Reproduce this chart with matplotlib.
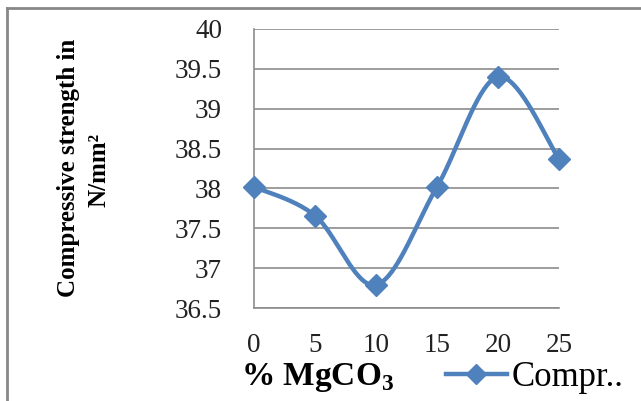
import numpy as np
import matplotlib
matplotlib.use("Agg")
import matplotlib.pyplot as plt
from matplotlib.lines import Line2D

# Data
x_vals = [0, 5, 10, 15, 20, 25]
strength = [38.02, 37.66, 36.79, 38.02, 39.40, 38.37]
y_ticks = [36.5, 37, 37.5, 38, 38.5, 39, 39.5, 40]
y_tick_labels = ["36.5", "37", "37.5", "38", "38.5", "39", "39.5", "40"]
x_tick_labels = ["0", "5", "10", "15", "20", "25"]
series_name = "Compr.."

plt.rcParams['mathtext.fontset'] = 'custom'
plt.rcParams['mathtext.rm'] = 'Liberation Serif:bold'
plt.rcParams['mathtext.bf'] = 'Liberation Serif:bold'

BLUE = "#4F81BD"
GRID = "#8c8c8c"


def smooth(xs, ys, n=40):
    """Catmull-Rom style Bezier smoothing, like spreadsheet smoothed lines."""
    xs = np.asarray(xs, float)
    ys = np.asarray(ys, float)
    px = np.concatenate([[xs[0]], xs, [xs[-1]]])
    py = np.concatenate([[ys[0]], ys, [ys[-1]]])
    outx, outy = [], []
    t = np.linspace(0, 1, n)
    for i in range(1, len(px) - 2):
        p0 = np.array([px[i], py[i]])
        p3 = np.array([px[i + 1], py[i + 1]])
        p1 = p0 + (np.array([px[i + 1], py[i + 1]]) - np.array([px[i - 1], py[i - 1]])) / 6
        p2 = p3 - (np.array([px[i + 2], py[i + 2]]) - np.array([px[i], py[i]])) / 6
        b = ((1 - t) ** 3)[:, None] * p0 + (3 * (1 - t) ** 2 * t)[:, None] * p1 \
            + (3 * (1 - t) * t ** 2)[:, None] * p2 + (t ** 3)[:, None] * p3
        outx.extend(b[:, 0])
        outy.extend(b[:, 1])
    return np.array(outx), np.array(outy)


fig = plt.figure(figsize=(6.41, 4.01), dpi=100)
ax = fig.add_axes([254 / 641, 1 - 308 / 401, 305 / 641, (308 - 29) / 401])

sx, sy = smooth(x_vals, strength)
ax.plot(sx, sy, color=BLUE, lw=3.2, solid_capstyle='round', zorder=3)
ax.plot(x_vals, strength, linestyle='none', marker='D', markersize=11,
        color=BLUE, zorder=4, clip_on=False)

ax.set_xlim(0, 25)
ax.set_ylim(36.5, 40)
ax.set_yticks(y_ticks)
ax.set_yticklabels(y_tick_labels)
ax.set_xticks(x_vals)
ax.set_xticklabels(x_tick_labels)
ax.grid(axis='y', color=GRID, lw=1.2)
ax.set_axisbelow(True)
for s in ['top', 'right']:
    ax.spines[s].set_visible(False)
for s in ['left', 'bottom']:
    ax.spines[s].set_color(GRID)
    ax.spines[s].set_linewidth(1.2)
ax.tick_params(axis='both', length=0, labelsize=19.5, colors='#222222')
ax.tick_params(axis='y', pad=23)
ax.tick_params(axis='x', pad=18)
for lab in ax.get_xticklabels() + ax.get_yticklabels():
    lab.set_fontfamily('Liberation Serif')

fig.text(68 / 641, 1 - 168 / 401, "Compressive strength in",
         rotation=90, ha='center', va='center', fontsize=18,
         fontweight='bold', family='Liberation Serif')
fig.text(99 / 641, 1 - 170 / 401, "N/mm²",
         rotation=90, ha='center', va='center', fontsize=18,
         fontweight='bold', family='Liberation Serif')

fig.text(318 / 641, 1 - 377 / 401, "% MgCO$_3$", ha='center', va='center',
         fontsize=24, fontweight='bold', family='Liberation Serif')

# legend
leg_handle = Line2D([0], [0], color=BLUE, lw=3.2, marker='D', markersize=10)
fig.legend([leg_handle], [series_name], loc='center left',
           bbox_to_anchor=(446 / 641, 1 - 378 / 401), frameon=False,
           prop={'family': 'Liberation Serif', 'size': 25},
           handlelength=1.75, handletextpad=0.15, borderpad=0, borderaxespad=0)

# outer frame (left and top edges visible)
fig.add_artist(Line2D([7 / 641, 7 / 641], [0, 1 - 7.5 / 401], color='#888888', lw=2))
fig.add_artist(Line2D([7 / 641, 1], [1 - 7.5 / 401, 1 - 7.5 / 401], color='#888888', lw=2))

fig.savefig("out.png", dpi=100)
